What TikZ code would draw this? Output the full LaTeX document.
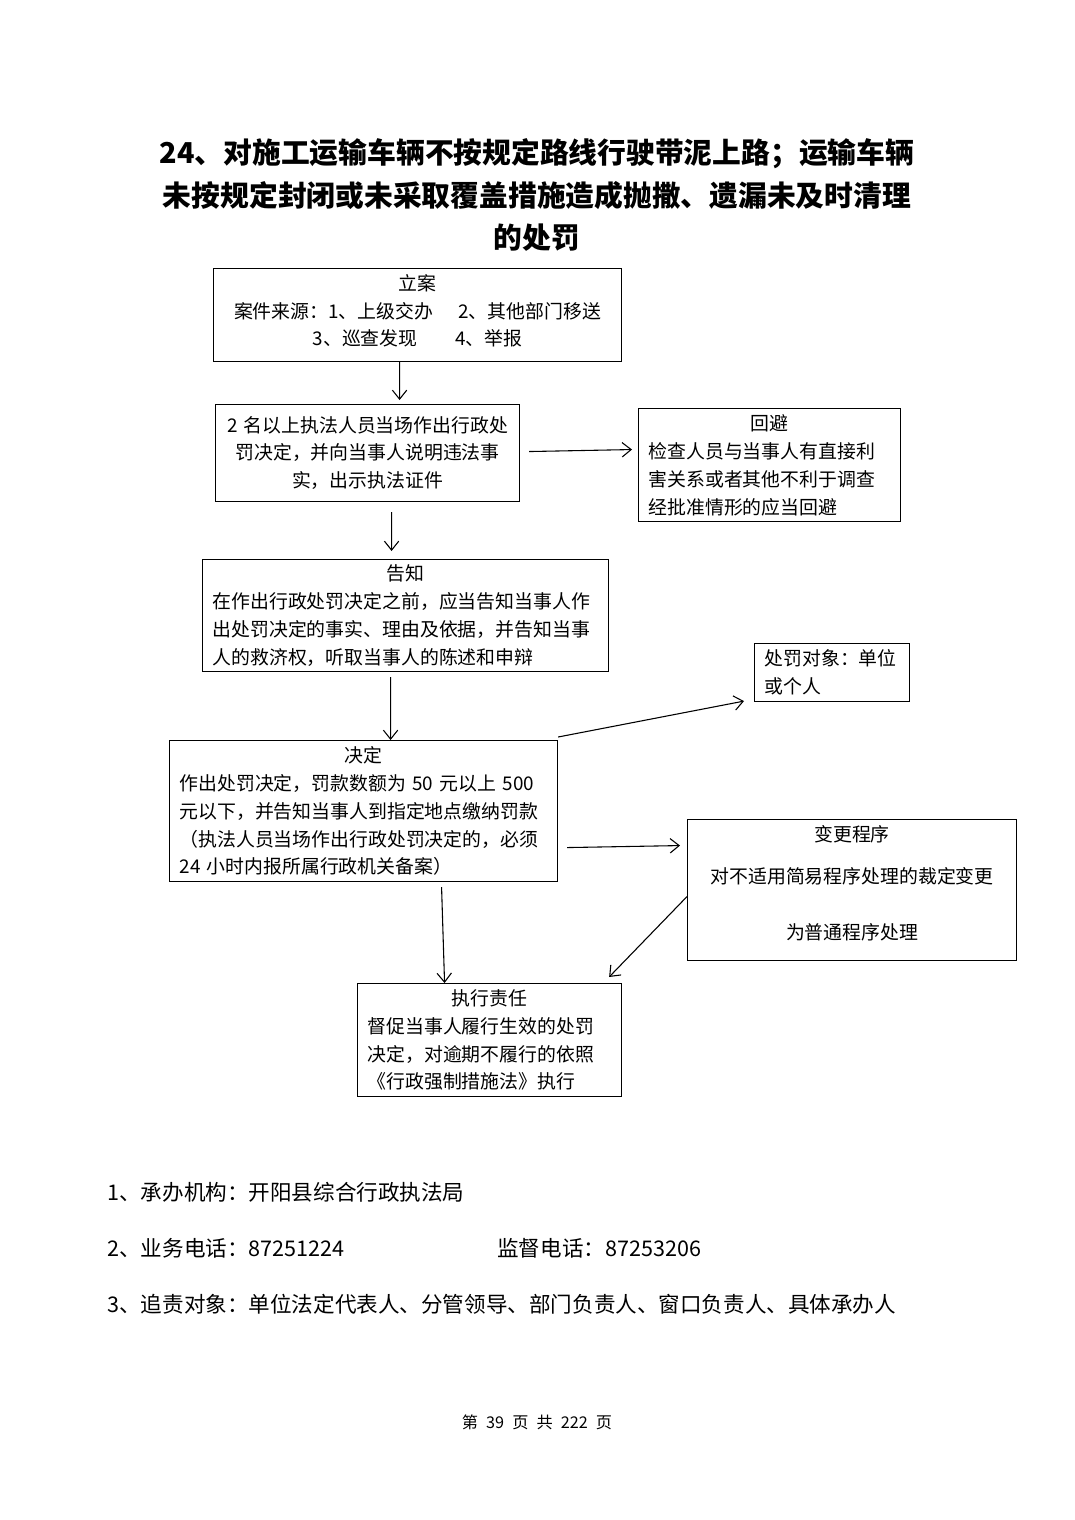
\documentclass[tikz,border=0pt]{standalone}
\usepackage{fontspec}
\setmainfont{Noto Sans CJK SC}
\usetikzlibrary{arrows.meta,calc}

\begin{document}
\begin{tikzpicture}[x=0.01955cm, y=-0.01955cm, font=\fontsize{10.5}{15.5}\selectfont,
  box/.style={draw, line width=0.6pt, anchor=north west, inner xsep=0.1955cm,
              inner ysep=0pt, align=center},
  boxl/.style={box, align=left},
  flow/.style={-{Straight Barb[length=5pt,width=8pt]}, line width=0.6pt},
  note/.style={anchor=west, inner sep=0pt, font=\fontsize{12}{14}\selectfont}]
  \useasboundingbox (0,0) rectangle (1074,1520);

  \node[font=\fontsize{16}{23.9}\selectfont\bfseries, align=center] (title) at (537,195)
    {24、对施工运输车辆不按规定路线行驶带泥上路；运输车辆\\
     未按规定封闭或未采取覆盖措施造成抛撒、遗漏未及时清理\\
     的处罚};

  % flow boxes
  \node[box, text width=7.585cm, minimum height=1.818cm] (lian) at (213,268)
    {立案\\案件来源：1、上级交办\quad\ 2、其他部门移送\\3、巡查发现\quad\quad 4、举报\rule[-5.5pt]{0pt}{1pt}};
  \node[box, text width=5.552cm, minimum height=1.896cm] (xianchang) at (215,404)
    {2~名以上执法人员当场作出行政处\\罚决定，并向当事人说明违法事\\实，出示执法证件};
  \node[boxl, text width=4.731cm, minimum height=2.209cm] (huibi) at (638,408)
    {\makebox[\linewidth]{回避}\\检查人员与当事人有直接利\\害关系或者其他不利于调查\\经批准情形的应当回避};
  \node[boxl, text width=7.546cm, minimum height=2.190cm] (gaozhi) at (202,559)
    {\makebox[\linewidth]{告知}\\在作出行政处罚决定之前，应当告知当事人作\\
     出处罚决定的事实、理由及依据，并告知当事\\人的救济权，听取当事人的陈述和申辩};
  \node[boxl, text width=7.194cm, minimum height=2.757cm] (jueding) at (169,740)
    {\makebox[\linewidth]{决定}\\作出处罚决定，罚款数额为~50~元以上~500\\
     元以下，并告知当事人到指定地点缴纳罚款\\
     （执法人员当场作出行政处罚决定的，必须\\24~小时内报所属行政机关备案）};
  \node[boxl, text width=2.639cm, minimum height=1.134cm] (duixiang) at (754,643)
    {处罚对象：单位\\或个人};
  \node[box, text width=6.041cm, minimum height=2.757cm] (biangeng) at (687,819)
    {变更程序\\[7.8pt]对不适用简易程序处理的裁定变更\\[16pt]为普通程序处理\rule[-8.5pt]{0pt}{1pt}};
  \node[boxl, text width=4.770cm, minimum height=2.209cm] (zhixing) at (357,983)
    {\makebox[\linewidth]{执行责任}\\督促当事人履行生效的处罚\\决定，对逾期不履行的依照\\《行政强制措施法》执行};

  % connectors
  \draw[flow] ($(lian.south)+(-18,0)$) -- ($(xianchang.north)+(32,-4)$);
  \draw[flow] ($(xianchang.east)+(9,-1.5)$) -- ($(huibi.west)+(-6,-15.5)$);
  \draw[flow] ($(xianchang.south)+(24,10)$) -- ($(gaozhi.north)+(-14,-8)$);
  \draw[flow] ($(gaozhi.south)+(-15,5)$) -- ($(jueding.north)+(27,0)$);
  \draw[flow] ($(jueding.north east)+(0,-3)$) -- ($(duixiang.south west)+(-10,-1)$);
  \draw[flow] ($(jueding.east)+(9,36.5)$) -- ($(biangeng.west)+(-7,-44.5)$);
  \draw[flow] ($(biangeng.west)+(0,6.5)$) -- ($(zhixing.north east)+(-13,-6)$);
  \draw[flow] ($(jueding.south)+(78,5)$) -- ($(zhixing.north)+(-45,0)$);

  % notes below
  \node[note] (chengban) at (107,1192) {1、承办机构：开阳县综合行政执法局};
  \node[note] (dianhua) at (107,1248)
    {\makebox[216.9pt][l]{2、业务电话：87251224}监督电话：87253206};
  \node[note] (zhuize) at (107,1304)
    {3、追责对象：单位法定代表人、分管领导、部门负责人、窗口负责人、具体承办人};
  \node[font=\fontsize{9}{11}\selectfont] (yema) at (537,1422)
    {第\enspace 39\enspace 页\enspace 共\enspace 222\enspace 页};
\end{tikzpicture}
\end{document}
